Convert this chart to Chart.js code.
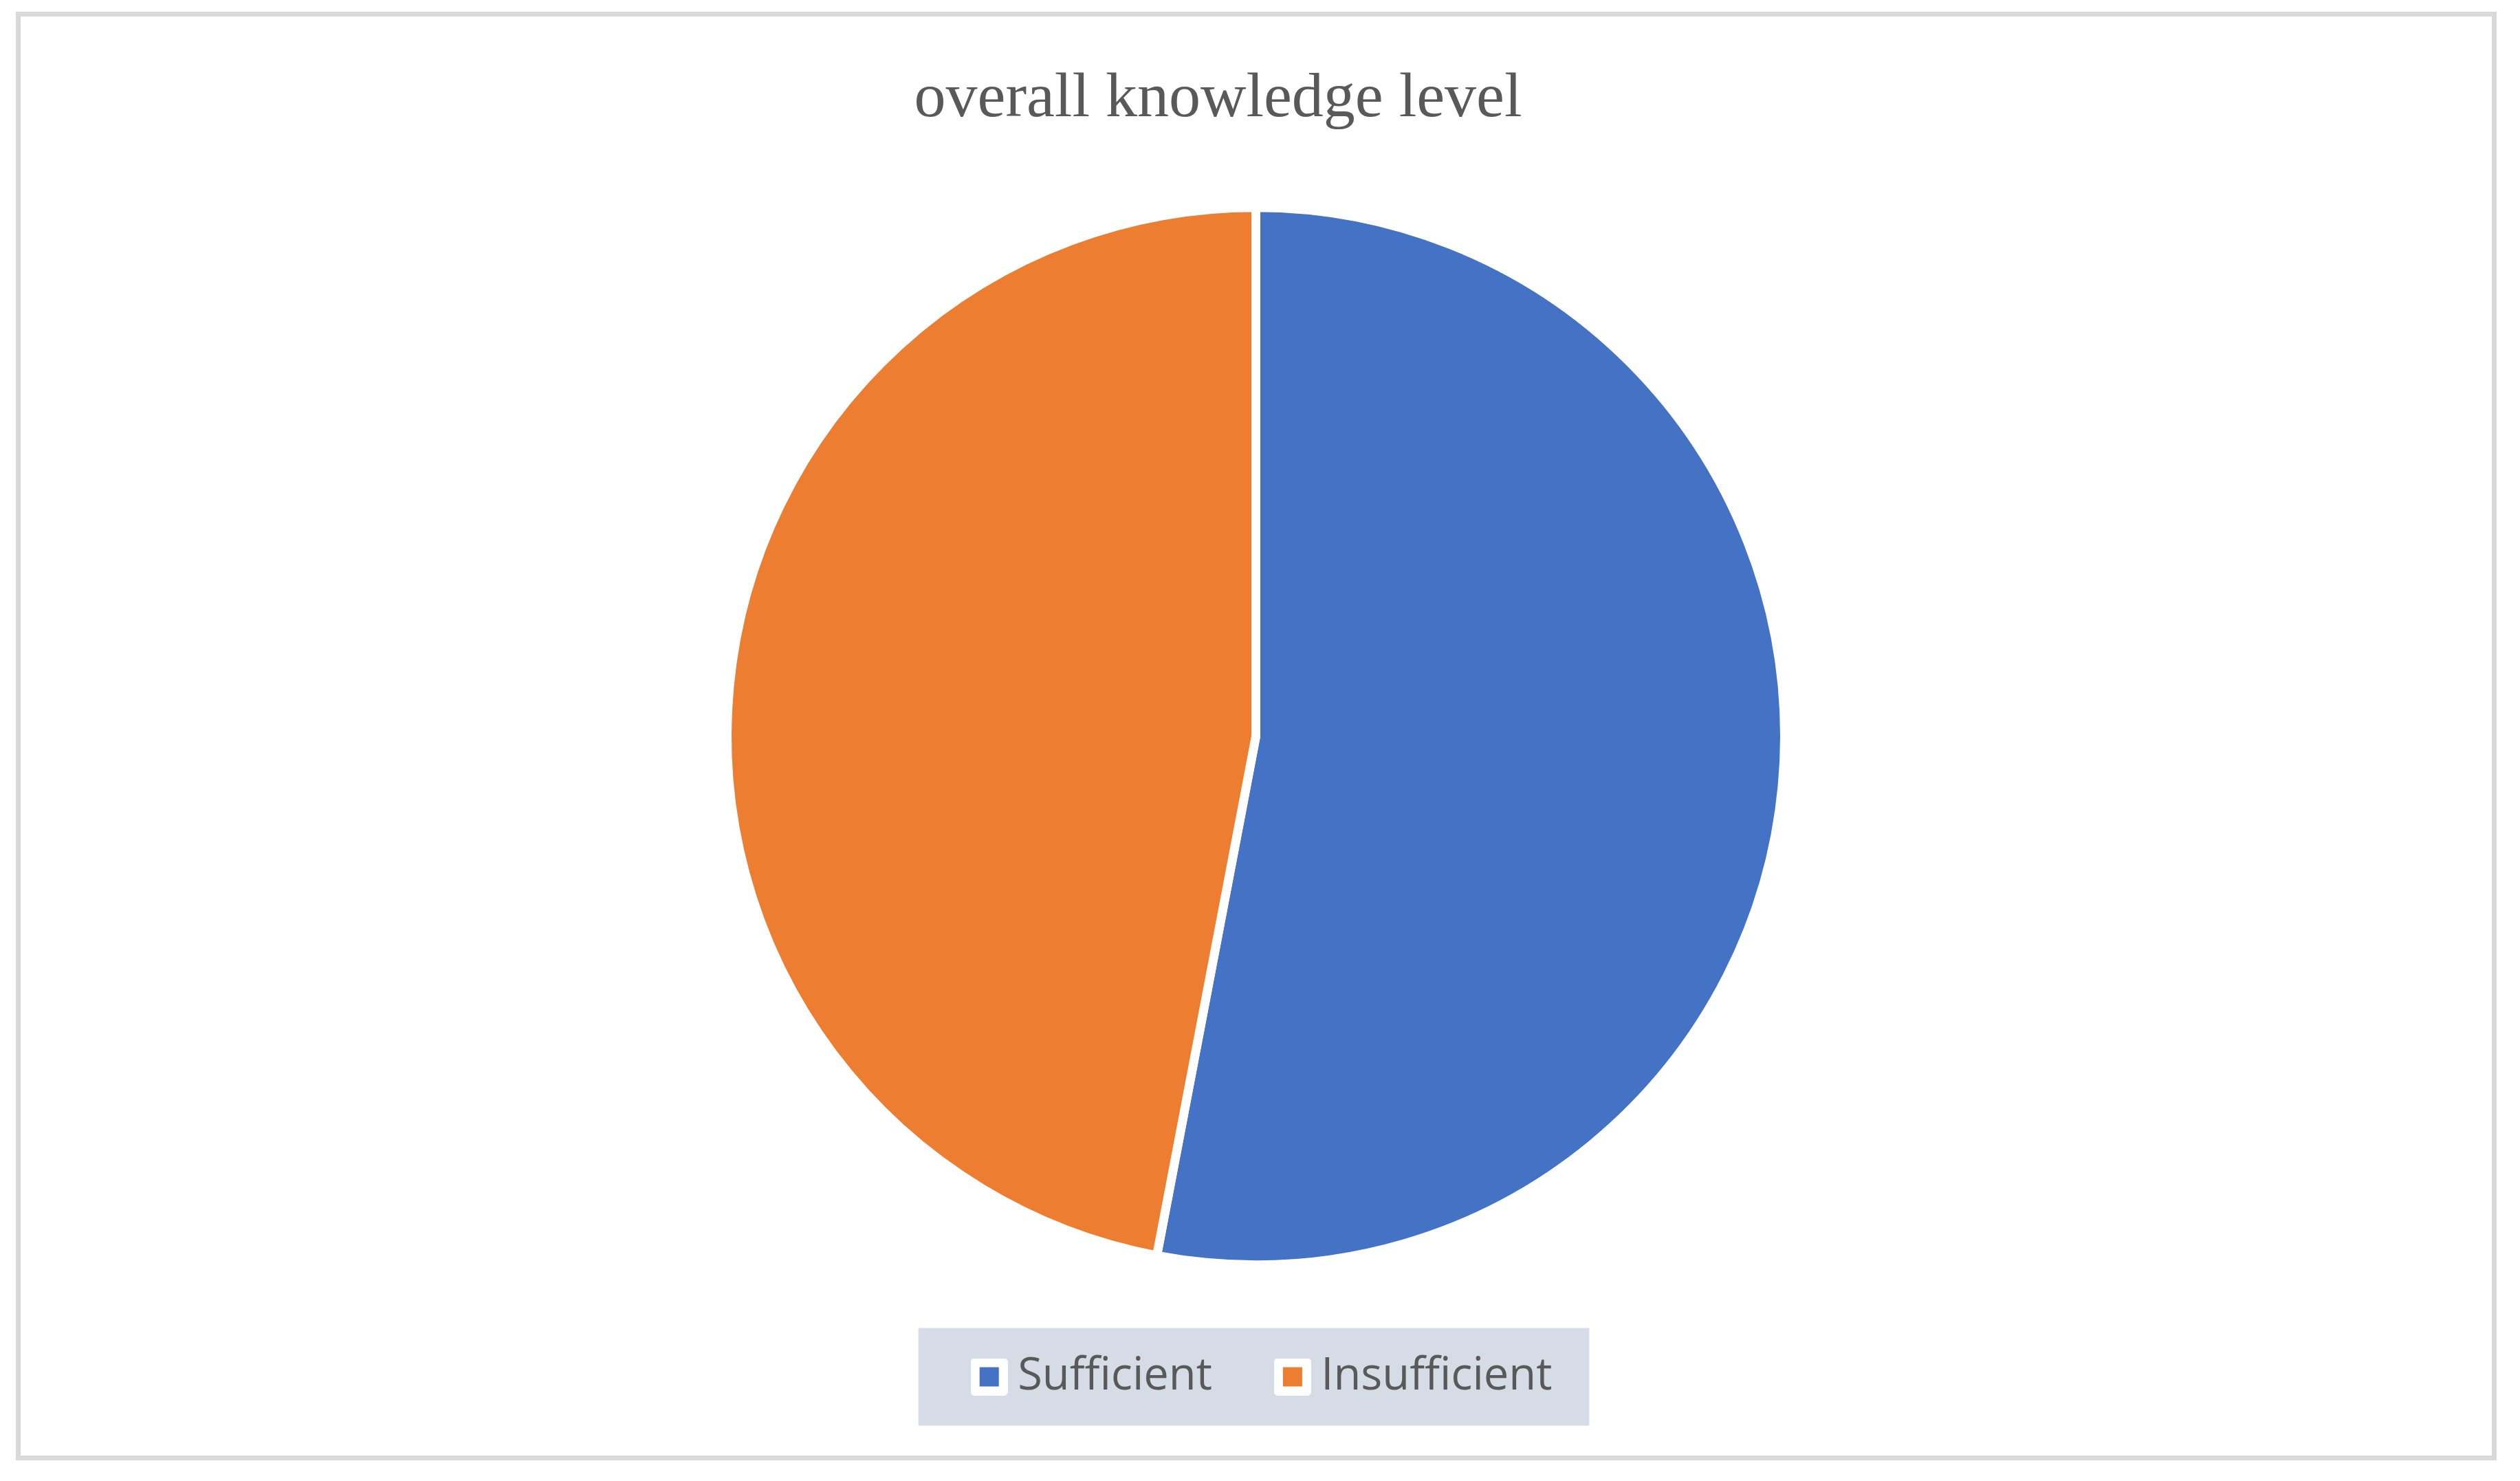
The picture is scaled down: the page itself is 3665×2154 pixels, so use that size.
<!DOCTYPE html>
<html>
<head>
<meta charset="utf-8">
<script src="https://cdn.jsdelivr.net/npm/chart.js@4"></script>
<style>
    html, body { margin: 0; padding: 0; background: #ffffff; }
    #wrap { position: relative; width: 3665px; height: 2154px; }
    #frame {
        position: absolute; left: 23px; top: 17px; width: 3608px; height: 2107px;
        border: 7px solid #d9d9d9; box-sizing: border-box; pointer-events: none;
    }
</style>
</head>
<body>
<div id="wrap">
    <canvas id="pieChart"></canvas>
    <div id="frame"></div>
</div>
<script>
// データ
const categories = ['Sufficient', 'Insufficient'];
const knowledgeValues = [53, 47];
const sliceColors = ['#4472C4', '#ED7D31'];
const chartTitle = 'overall knowledge level';

// 凡例マーカー（白枠付きの四角）
function makeMarker(color) {
    const c = document.createElement('canvas');
    c.width = 54;
    c.height = 54;
    const g = c.getContext('2d');
    g.fillStyle = '#ffffff';
    g.beginPath();
    g.roundRect(0, 0, 54, 54, 5);
    g.fill();
    g.fillStyle = color;
    g.fillRect(13, 13, 28, 28);
    return c;
}
const markers = sliceColors.map(makeMarker);

// 凡例の背景と位置調整（タイトルは少し左寄り）
const legendBox = {
    id: 'legendBox',
    afterLayout(chart) {
        chart.legend.left += 17;
        chart.legend.right += 17;
        chart.titleBlock.left -= 110;
    },
    beforeDraw(chart) {
        const boxes = chart.legend.legendHitBoxes;
        if (!boxes || !boxes.length) return;
        const first = boxes[0];
        const last = boxes[boxes.length - 1];
        const cy = first.top + first.height / 2;
        const left = first.left - 94;
        const right = last.left + last.width + 54;
        const ctx = chart.ctx;
        ctx.save();
        ctx.fillStyle = '#D6DCE5';
        ctx.fillRect(left, cy - 71, right - left, 142);
        ctx.restore();
    }
};

const pieChart = new Chart(
    document.getElementById('pieChart'),
    {
        type: 'pie',
        data: {
            labels: categories,
            datasets: [{
                data: knowledgeValues,
                backgroundColor: sliceColors,
                borderColor: '#ffffff',
                borderWidth: 13,
                radius: 769
            }]
        },
        options: {
            responsive: true,
            maintainAspectRatio: false,
            animation: false,
            layout: {
                padding: { top: 40, bottom: 109, left: 0, right: 12 }
            },
            plugins: {
                title: {
                    display: true,
                    text: chartTitle,
                    color: '#595959',
                    font: { family: 'Liberation Serif', size: 92, weight: 'normal' },
                    padding: { top: 50, bottom: 79 }
                },
                legend: {
                    position: 'bottom',
                    labels: {
                        color: '#595959',
                        font: { family: 'Open Sans', size: 65 },
                        usePointStyle: true,
                        pointStyleWidth: 18,
                        padding: 108,
                        generateLabels(chart) {
                            return categories.map((name, i) => ({
                                text: name,
                                fontColor: '#595959',
                                pointStyle: markers[i],
                                fillStyle: sliceColors[i],
                                strokeStyle: '#ffffff',
                                lineWidth: 0,
                                hidden: false,
                                index: i
                            }));
                        }
                    }
                },
                tooltip: { enabled: false }
            }
        },
        plugins: [legendBox]
    }
);
</script>
</body>
</html>
